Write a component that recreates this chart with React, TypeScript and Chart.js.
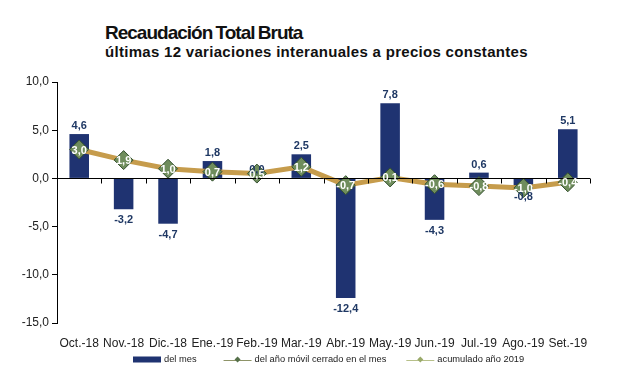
import React, { useEffect, useRef } from "react";
import { Chart, registerables } from "chart.js";

Chart.register(...registerables);

const categories = [
  "Oct.-18", "Nov.-18", "Dic.-18", "Ene.-19", "Feb.-19", "Mar.-19",
  "Abr.-19", "May.-19", "Jun.-19", "Jul.-19", "Ago.-19", "Set.-19",
];
const delMes = [4.6, -3.2, -4.7, 1.8, 0.0, 2.5, -12.4, 7.8, -4.3, 0.6, -0.8, 5.1];
const anioMovil = [3.0, 1.9, 1.0, 0.7, 0.5, 1.2, -0.7, 0.1, -0.6, -0.8, -1.0, -0.4];
const acumulado2019: (number | null)[] = [null, null, null, null, null, null, null, null, null, null, null, null];
const yTicks = [-15, -10, -5, 0, 5, 10];
const seriesNames = ["del mes", "del año móvil cerrado en el mes", "acumulado año 2019"];

const BAR = "#1F3371";
const GOLD = "#C69C4C";
const OLIVE = "#6F8D5C";
const OLIVE_DARK = "#34502F";
const LIGHT_OLIVE = "#B7C08A";
const FONT = "'Liberation Sans', Arial, sans-serif";

const fmt = (v: number) => v.toFixed(1).replace(".", ",");

const zeroLinePlugin = {
  id: "zeroLine",
  afterDatasetsDraw(chart: any) {
    const { ctx, chartArea, scales } = chart;
    const y0 = scales.y.getPixelForValue(0);
    ctx.save();
    ctx.strokeStyle = "#000";
    ctx.lineWidth = 1;
    ctx.beginPath();
    ctx.moveTo(chartArea.left, Math.round(y0) + 0.5);
    ctx.lineTo(chartArea.right, Math.round(y0) + 0.5);
    const n = categories.length;
    const step = (chartArea.right - chartArea.left) / n;
    for (let i = 1; i <= n; i++) {
      const px = Math.round(chartArea.left + step * i) + 0.5;
      ctx.moveTo(px, Math.round(y0) + 0.5);
      ctx.lineTo(px, Math.round(y0) + 5.5);
    }
    ctx.stroke();
    ctx.restore();
  },
};

const labelPlugin = {
  id: "valueLabels",
  afterDraw(chart: any) {
    const { ctx } = chart;
    ctx.save();
    ctx.textAlign = "center";
    ctx.textBaseline = "middle";
    const barMeta = chart.getDatasetMeta(0);
    ctx.font = `bold 11px ${FONT}`;
    ctx.fillStyle = "#1F3864";
    barMeta.data.forEach((el: any, i: number) => {
      const v = delMes[i];
      const y = v >= 0 ? el.y - 8 : el.y + 11;
      ctx.fillText(fmt(v), el.x, y);
    });
    const lineMeta = chart.getDatasetMeta(1);
    ctx.fillStyle = "#FFFFFF";
    lineMeta.data.forEach((el: any, i: number) => {
      ctx.fillText(fmt(anioMovil[i]), el.x, el.y + 1);
    });
    ctx.restore();
  },
};

// Legend drawn below the axis labels
const legendPlugin = {
  id: "customLegend",
  afterDraw(chart: any) {
    const { ctx, chartArea } = chart;
    const y = chartArea.bottom + 36.5;
    let x = 133;
    const gaps = [27, 20, 0];
    ctx.save();
    ctx.font = `9.3px ${FONT}`;
    ctx.textBaseline = "middle";
    ctx.textAlign = "left";
    seriesNames.forEach((name, i) => {
      if (i === 0) {
        ctx.fillStyle = BAR;
        ctx.fillRect(x, y - 3, 28, 6);
      } else {
        const lc = i === 1 ? "#8E9468" : LIGHT_OLIVE;
        const mc = i === 1 ? "#55704A" : "#9AAA6A";
        ctx.strokeStyle = lc;
        ctx.lineWidth = 1;
        ctx.beginPath();
        ctx.moveTo(x, Math.round(y) + 0.5);
        ctx.lineTo(x + 28, Math.round(y) + 0.5);
        ctx.stroke();
        ctx.fillStyle = mc;
        ctx.beginPath();
        ctx.moveTo(x + 14, y - 3);
        ctx.lineTo(x + 17, y);
        ctx.lineTo(x + 14, y + 3);
        ctx.lineTo(x + 11, y);
        ctx.closePath();
        ctx.fill();
      }
      x += 31;
      ctx.fillStyle = "#222";
      ctx.fillText(name, x, y);
      x += ctx.measureText(name).width + gaps[i];
    });
    ctx.restore();
  },
};

export default function App() {
  const ref = useRef<HTMLCanvasElement>(null);

  useEffect(() => {
    if (!ref.current) return;
    const chart = new Chart(ref.current, {
      type: "bar",
      data: {
        labels: categories,
        datasets: [
          {
            type: "bar",
            label: seriesNames[0],
            data: delMes,
            backgroundColor: BAR,
            categoryPercentage: 1,
            barPercentage: 0.44,
            order: 3,
          },
          {
            type: "line",
            label: seriesNames[1],
            data: anioMovil,
            borderColor: GOLD,
            borderWidth: 5,
            pointStyle: "rectRot",
            pointRadius: 9.5,
            pointBackgroundColor: OLIVE,
            pointBorderColor: OLIVE_DARK,
            pointBorderWidth: 1,
            tension: 0,
            order: 1,
          },
          {
            type: "line",
            label: seriesNames[2],
            data: acumulado2019,
            borderColor: LIGHT_OLIVE,
            borderWidth: 2,
            pointStyle: "rectRot",
            pointRadius: 4,
            pointBackgroundColor: "#9AAA6A",
            order: 2,
          },
        ] as any,
      },
      options: {
        animation: false,
        responsive: false,
        maintainAspectRatio: false,
        layout: { padding: { top: 82, left: 0, right: 43, bottom: 33 } },
        plugins: {
          title: { display: false },
          tooltip: { enabled: false },
          legend: { display: false },
        },
        scales: {
          x: {
            grid: { display: false, drawTicks: false, tickLength: 0 },
            border: { display: false },
            ticks: {
              color: "#222",
              font: { family: FONT, size: 12 },
              padding: 13,
              maxRotation: 0,
              autoSkip: false,
            },
            afterFit: (s: any) => {
              s.height = 29;
            },
          },
          y: {
            min: -15,
            max: 10,
            afterBuildTicks: (s: any) => {
              s.ticks = yTicks.map((v) => ({ value: v }));
            },
            afterFit: (s: any) => {
              s.width = 57;
            },
            grid: {
              drawOnChartArea: false,
              drawTicks: true,
              tickLength: 5,
              color: "#000",
            },
            border: { display: true, color: "#000", width: 1 },
            ticks: {
              color: "#222",
              font: { family: FONT, size: 12 },
              padding: 3,
              callback: (v: any) => fmt(Number(v)),
            },
          },
        },
      },
      plugins: [zeroLinePlugin, labelPlugin, legendPlugin],
    });
    return () => chart.destroy();
  }, []);

  return (
    <div style={{ position: "fixed", left: 0, top: 0, width: 633, height: 385, background: "#fff", overflow: "hidden" }}>
      <div
        style={{
          position: "absolute",
          left: 105,
          top: 22,
          fontFamily: FONT,
          fontWeight: "bold",
          fontSize: 19,
          letterSpacing: "-1px",
          wordSpacing: "-1px",
          lineHeight: "22px",
          color: "#111",
          whiteSpace: "nowrap",
        }}
      >
        Recaudación Total Bruta
      </div>
      <div
        style={{
          position: "absolute",
          left: 105,
          top: 43,
          fontFamily: FONT,
          fontWeight: "bold",
          fontSize: 15,
          letterSpacing: "0.3px",
          lineHeight: "18px",
          color: "#111",
          whiteSpace: "nowrap",
        }}
      >
        últimas 12 variaciones interanuales a precios constantes
      </div>
      <canvas ref={ref} width={633} height={385} style={{ position: "absolute", left: 0, top: 0 }} />
    </div>
  );
}
